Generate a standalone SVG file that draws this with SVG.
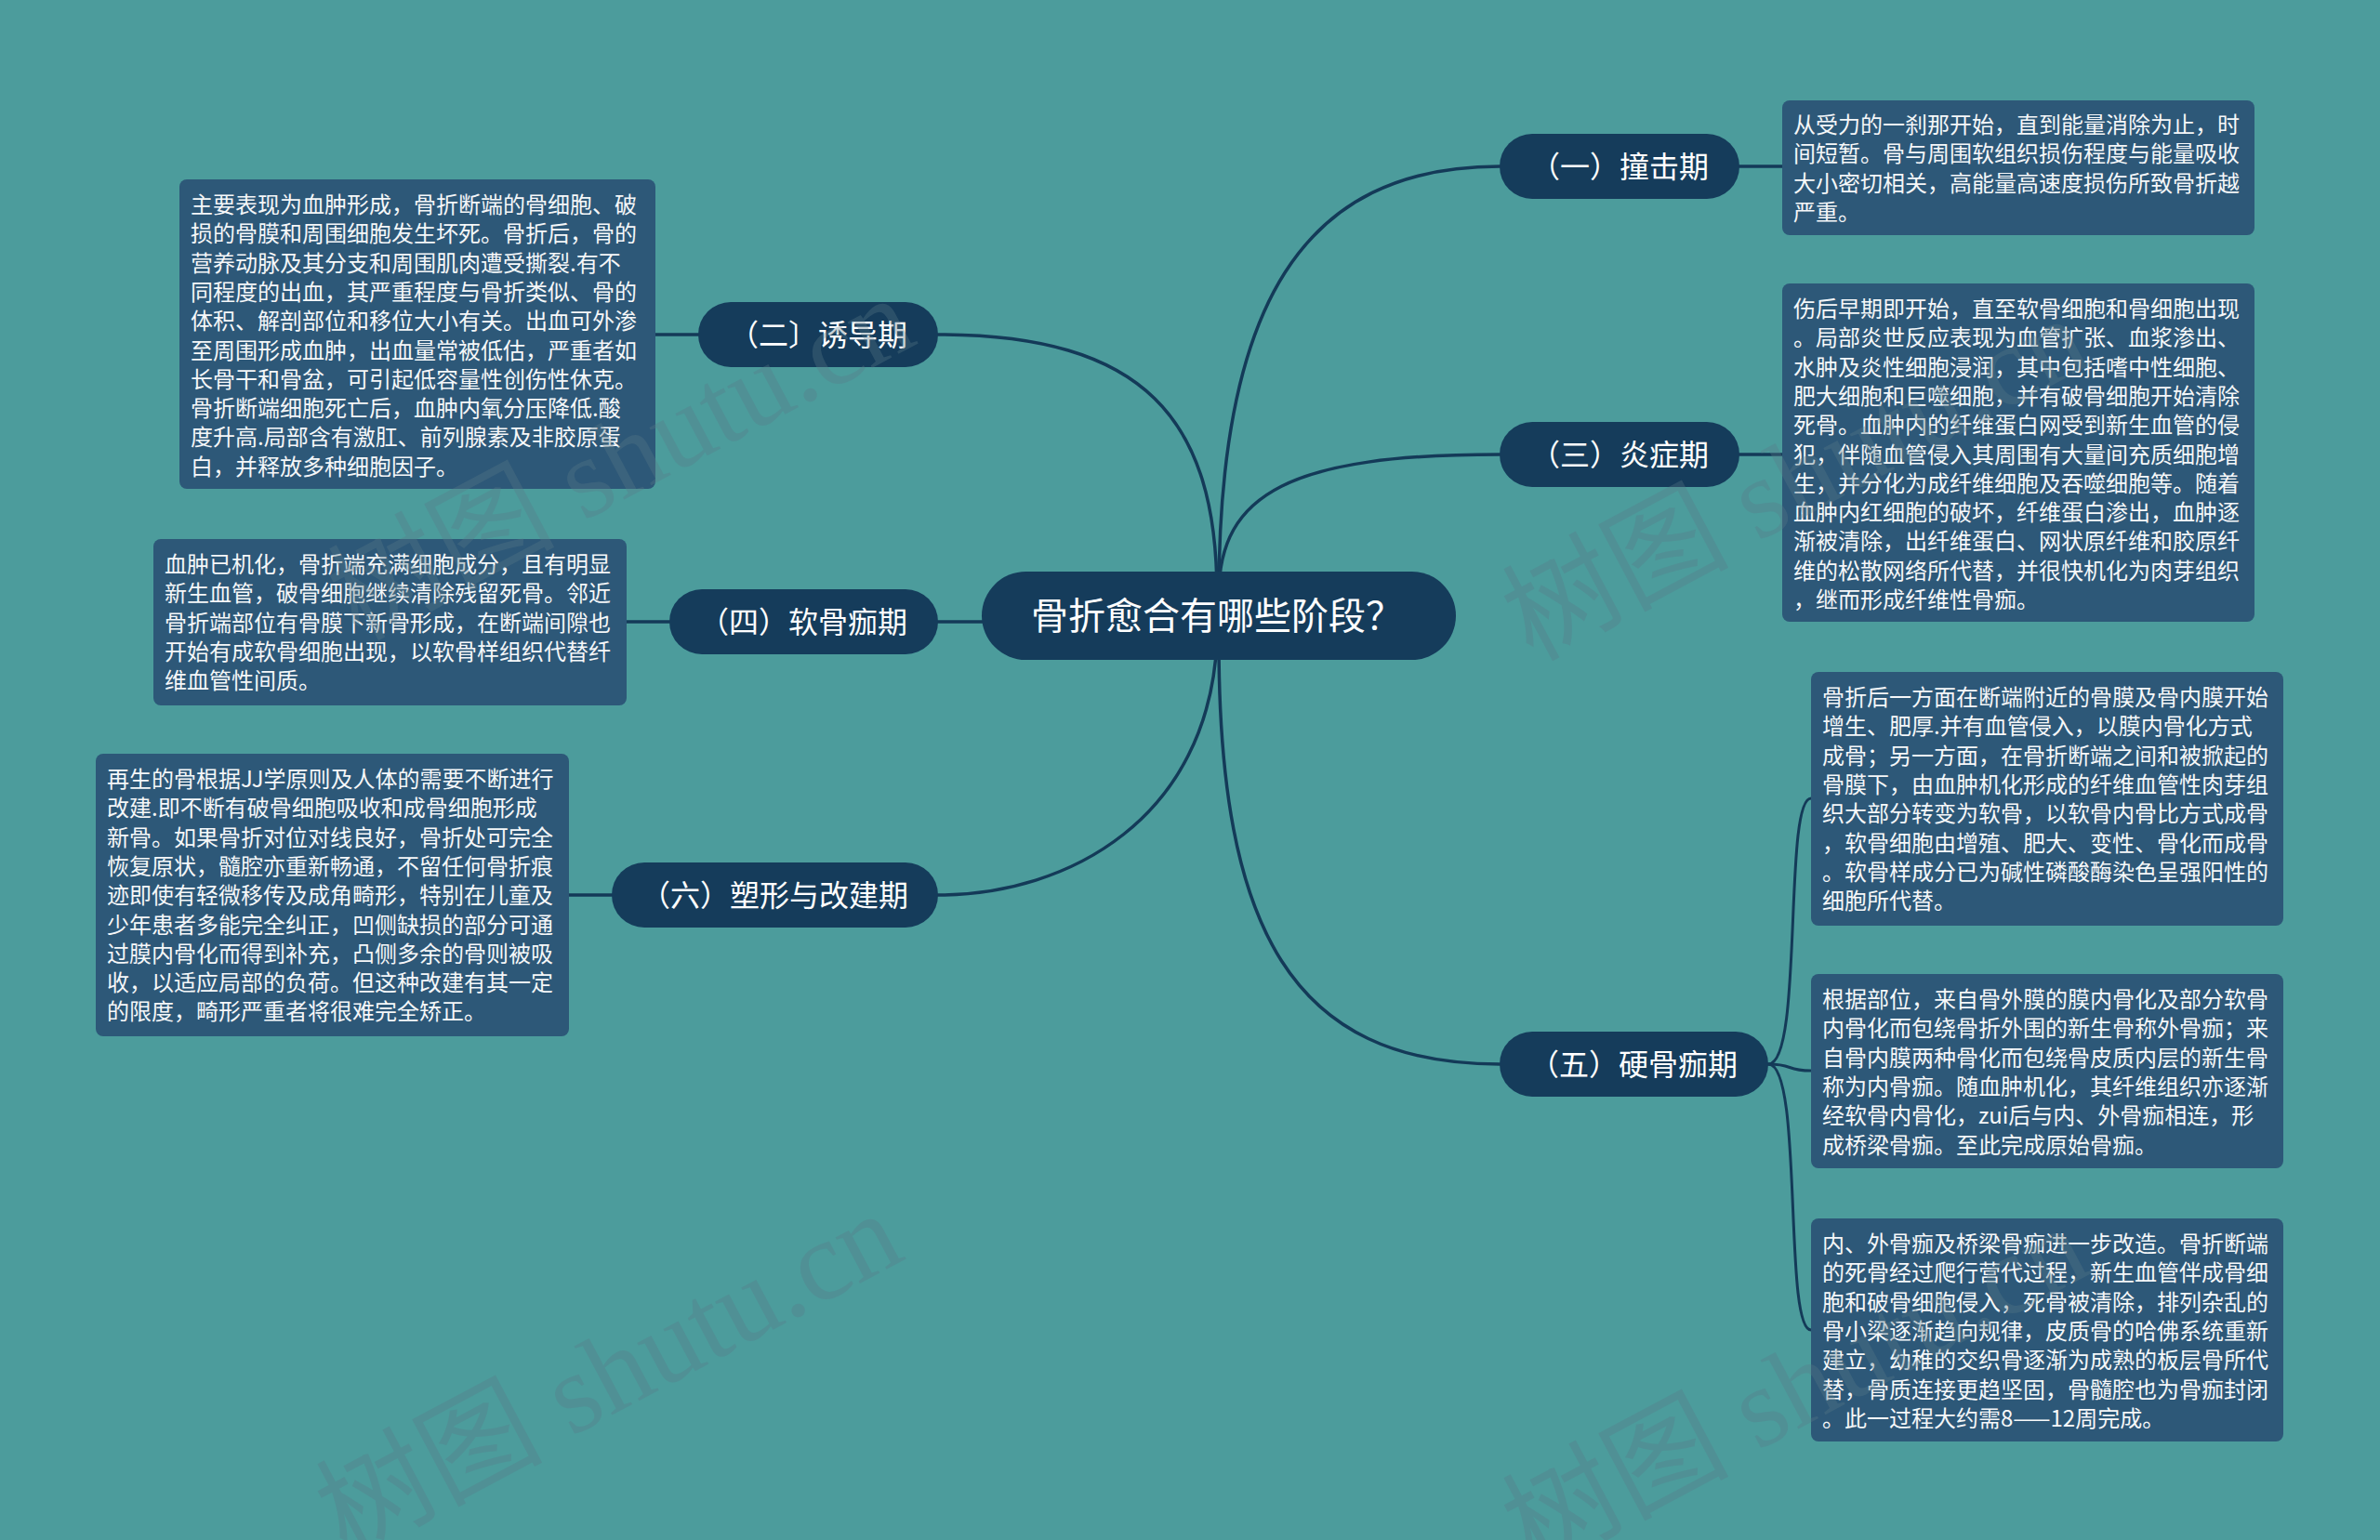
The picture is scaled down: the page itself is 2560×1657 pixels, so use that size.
<svg xmlns="http://www.w3.org/2000/svg" width="2560" height="1657" viewBox="0 0 2560 1657">
<style>
.node rect{fill:#153c5b}
.box rect{fill:#2d5878}
.lbl{fill:#ffffff;font-family:"Noto Sans CJK SC","Noto Sans",sans-serif;text-anchor:middle}
.bt{fill:#f5f7f9;font-family:"Noto Sans CJK SC","Noto Sans",sans-serif;font-size:24px}
.conn path{fill:none;stroke:#143a58;stroke-width:3.5;stroke-linecap:round}
.wm{fill:#5a7a88;opacity:0.33;font-family:"Liberation Serif","Noto Sans CJK SC",serif;font-size:122px}
</style>
<rect width="2560" height="1657" fill="#4c9c9c"/>
<g id="connectors" class="conn">
<path d="M1311 640 C1311 330 1400 179 1613 179"/>
<path d="M1311 640 C1311 530 1390 489 1613 489"/>
<path d="M1311 690 C1311 1000 1390 1145 1613 1145"/>
<path d="M1309 640 C1309 450 1230 360 1009 360"/>
<path d="M1009 669 L1100 669"/>
<path d="M1309 690 C1300 880 1150 963 1009 963"/>
<path d="M1871 179 L1917 179"/>
<path d="M1871 489 L1917 489"/>
<path d="M751 360 L705 360"/>
<path d="M720 669 L674 669"/>
<path d="M658 963 L612 963"/>
<path d="M1902 1145 C1940 1145 1918 859 1948 859" style="stroke-width:3"/>
<path d="M1902 1145 C1930 1145 1920 1152 1948 1152" style="stroke-width:3"/>
<path d="M1902 1145 C1940 1145 1918 1431 1948 1431" style="stroke-width:3"/>
</g>
<g id="center" class="node">
<rect x="1056" y="615" width="510" height="95" rx="47.5"/>
<text class="lbl" x="1309" y="677" font-size="40">骨折愈合有哪些阶段？</text>
</g>
<g id="n1" class="node">
<rect x="1613" y="144" width="258" height="70" rx="35"/>
<text class="lbl" x="1742" y="191" font-size="32">（一）撞击期</text>
</g>
<g id="n3" class="node">
<rect x="1613" y="454" width="258" height="70" rx="35"/>
<text class="lbl" x="1742" y="501" font-size="32">（三）炎症期</text>
</g>
<g id="n5" class="node">
<rect x="1613" y="1110" width="289" height="70" rx="35"/>
<text class="lbl" x="1757" y="1157" font-size="32">（五）硬骨痂期</text>
</g>
<g id="n2" class="node">
<rect x="751" y="325" width="258" height="70" rx="35"/>
<text class="lbl" x="880" y="372" font-size="32">（二〕诱导期</text>
</g>
<g id="n4" class="node">
<rect x="720" y="634" width="289" height="70" rx="35"/>
<text class="lbl" x="864" y="681" font-size="32">（四）软骨痂期</text>
</g>
<g id="n6" class="node">
<rect x="658" y="928" width="351" height="70" rx="35"/>
<text class="lbl" x="833" y="975" font-size="32">（六）塑形与改建期</text>
</g>
<g id="b1" class="box">
<rect x="1917" y="108" width="508" height="145" rx="8"/>
<text class="bt" x="1929" y="143"><tspan x="1929">从受力的一刹那开始，直到能量消除为止，时</tspan><tspan x="1929" dy="31.3">间短暂。骨与周围软组织损伤程度与能量吸收</tspan><tspan x="1929" dy="31.3">大小密切相关，高能量高速度损伤所致骨折越</tspan><tspan x="1929" dy="31.3">严重。</tspan></text>
</g>
<g id="b3" class="box">
<rect x="1917" y="305" width="508" height="364" rx="8"/>
<text class="bt" x="1929" y="341"><tspan x="1929">伤后早期即开始，直至软骨细胞和骨细胞出现</tspan><tspan x="1929" dy="31.3">。局部炎世反应表现为血管扩张、血浆渗出、</tspan><tspan x="1929" dy="31.3">水肿及炎性细胞浸润，其中包括嗜中性细胞、</tspan><tspan x="1929" dy="31.3">肥大细胞和巨噬细胞，并有破骨细胞开始清除</tspan><tspan x="1929" dy="31.3">死骨。血肿内的纤维蛋白网受到新生血管的侵</tspan><tspan x="1929" dy="31.3">犯，伴随血管侵入其周围有大量间充质细胞增</tspan><tspan x="1929" dy="31.3">生，并分化为成纤维细胞及吞噬细胞等。随着</tspan><tspan x="1929" dy="31.3">血肿内红细胞的破坏，纤维蛋白渗出，血肿逐</tspan><tspan x="1929" dy="31.3">渐被清除，出纤维蛋白、网状原纤维和胶原纤</tspan><tspan x="1929" dy="31.3">维的松散网络所代替，并很快机化为肉芽组织</tspan><tspan x="1929" dy="31.3">，继而形成纤维性骨痂。</tspan></text>
</g>
<g id="b2" class="box">
<rect x="193" y="193" width="512" height="333" rx="8"/>
<text class="bt" x="205" y="229"><tspan x="205">主要表现为血肿形成，骨折断端的骨细胞、破</tspan><tspan x="205" dy="31.3">损的骨膜和周围细胞发生坏死。骨折后，骨的</tspan><tspan x="205" dy="31.3">营养动脉及其分支和周围肌肉遭受撕裂.有不</tspan><tspan x="205" dy="31.3">同程度的出血，其严重程度与骨折类似、骨的</tspan><tspan x="205" dy="31.3">体积、解剖部位和移位大小有关。出血可外渗</tspan><tspan x="205" dy="31.3">至周围形成血肿，出血量常被低估，严重者如</tspan><tspan x="205" dy="31.3">长骨干和骨盆，可引起低容量性创伤性休克。</tspan><tspan x="205" dy="31.3">骨折断端细胞死亡后，血肿内氧分压降低.酸</tspan><tspan x="205" dy="31.3">度升高.局部含有激肛、前列腺素及非胶原蛋</tspan><tspan x="205" dy="31.3">白，并释放多种细胞因子。</tspan></text>
</g>
<g id="b4" class="box">
<rect x="165" y="580" width="509" height="179" rx="8"/>
<text class="bt" x="177" y="616"><tspan x="177">血肿已机化，骨折端充满细胞成分，且有明显</tspan><tspan x="177" dy="31.3">新生血管，破骨细胞继续清除残留死骨。邻近</tspan><tspan x="177" dy="31.3">骨折端部位有骨膜下新骨形成，在断端间隙也</tspan><tspan x="177" dy="31.3">开始有成软骨细胞出现，以软骨样组织代替纤</tspan><tspan x="177" dy="31.3">维血管性间质。</tspan></text>
</g>
<g id="b6" class="box">
<rect x="103" y="811" width="509" height="304" rx="8"/>
<text class="bt" x="115" y="847"><tspan x="115">再生的骨根据JJ学原则及人体的需要不断进行</tspan><tspan x="115" dy="31.3">改建.即不断有破骨细胞吸收和成骨细胞形成</tspan><tspan x="115" dy="31.3">新骨。如果骨折对位对线良好，骨折处可完全</tspan><tspan x="115" dy="31.3">恢复原状，髓腔亦重新畅通，不留任何骨折痕</tspan><tspan x="115" dy="31.3">迹即使有轻微移传及成角畸形，特别在儿童及</tspan><tspan x="115" dy="31.3">少年患者多能完全纠正，凹侧缺损的部分可通</tspan><tspan x="115" dy="31.3">过膜内骨化而得到补充，凸侧多余的骨则被吸</tspan><tspan x="115" dy="31.3">收，以适应局部的负荷。但这种改建有其一定</tspan><tspan x="115" dy="31.3">的限度，畸形严重者将很难完全矫正。</tspan></text>
</g>
<g id="b5a" class="box">
<rect x="1948" y="723" width="508" height="273" rx="8"/>
<text class="bt" x="1960" y="759"><tspan x="1960">骨折后一方面在断端附近的骨膜及骨内膜开始</tspan><tspan x="1960" dy="31.3">增生、肥厚.并有血管侵入，以膜内骨化方式</tspan><tspan x="1960" dy="31.3">成骨；另一方面，在骨折断端之间和被掀起的</tspan><tspan x="1960" dy="31.3">骨膜下，由血肿机化形成的纤维血管性肉芽组</tspan><tspan x="1960" dy="31.3">织大部分转变为软骨，以软骨内骨比方式成骨</tspan><tspan x="1960" dy="31.3">，软骨细胞由增殖、肥大、变性、骨化而成骨</tspan><tspan x="1960" dy="31.3">。软骨样成分已为碱性磷酸酶染色呈强阳性的</tspan><tspan x="1960" dy="31.3">细胞所代替。</tspan></text>
</g>
<g id="b5b" class="box">
<rect x="1948" y="1048" width="508" height="209" rx="8"/>
<text class="bt" x="1960" y="1084"><tspan x="1960">根据部位，来自骨外膜的膜内骨化及部分软骨</tspan><tspan x="1960" dy="31.3">内骨化而包绕骨折外围的新生骨称外骨痂；来</tspan><tspan x="1960" dy="31.3">自骨内膜两种骨化而包绕骨皮质内层的新生骨</tspan><tspan x="1960" dy="31.3">称为内骨痂。随血肿机化，其纤维组织亦逐渐</tspan><tspan x="1960" dy="31.3">经软骨内骨化，zui后与内、外骨痂相连，形</tspan><tspan x="1960" dy="31.3">成桥梁骨痂。至此完成原始骨痂。</tspan></text>
</g>
<g id="b5c" class="box">
<rect x="1948" y="1311" width="508" height="240" rx="8"/>
<text class="bt" x="1960" y="1347"><tspan x="1960">内、外骨痂及桥梁骨痂进一步改造。骨折断端</tspan><tspan x="1960" dy="31.3">的死骨经过爬行营代过程，新生血管伴成骨细</tspan><tspan x="1960" dy="31.3">胞和破骨细胞侵入，死骨被清除，排列杂乱的</tspan><tspan x="1960" dy="31.3">骨小梁逐渐趋向规律，皮质骨的哈佛系统重新</tspan><tspan x="1960" dy="31.3">建立，幼稚的交织骨逐渐为成熟的板层骨所代</tspan><tspan x="1960" dy="31.3">替，骨质连接更趋坚固，骨髓腔也为骨痂封闭</tspan><tspan x="1960" dy="31.3">。此一过程大约需8——12周完成。</tspan></text>
</g>
<g id="watermarks">
<text class="wm" x="385" y="690" transform="rotate(-28 385 690)">树图 shutu.cn</text>
<text class="wm" x="372" y="1675" transform="rotate(-28 372 1675)">树图 shutu.cn</text>
<text class="wm" x="1648" y="712" transform="rotate(-28 1648 712)">树图 shutu.cn</text>
<text class="wm" x="1648" y="1690" transform="rotate(-28 1648 1690)">树图 shutu.cn</text>
</g>
</svg>
